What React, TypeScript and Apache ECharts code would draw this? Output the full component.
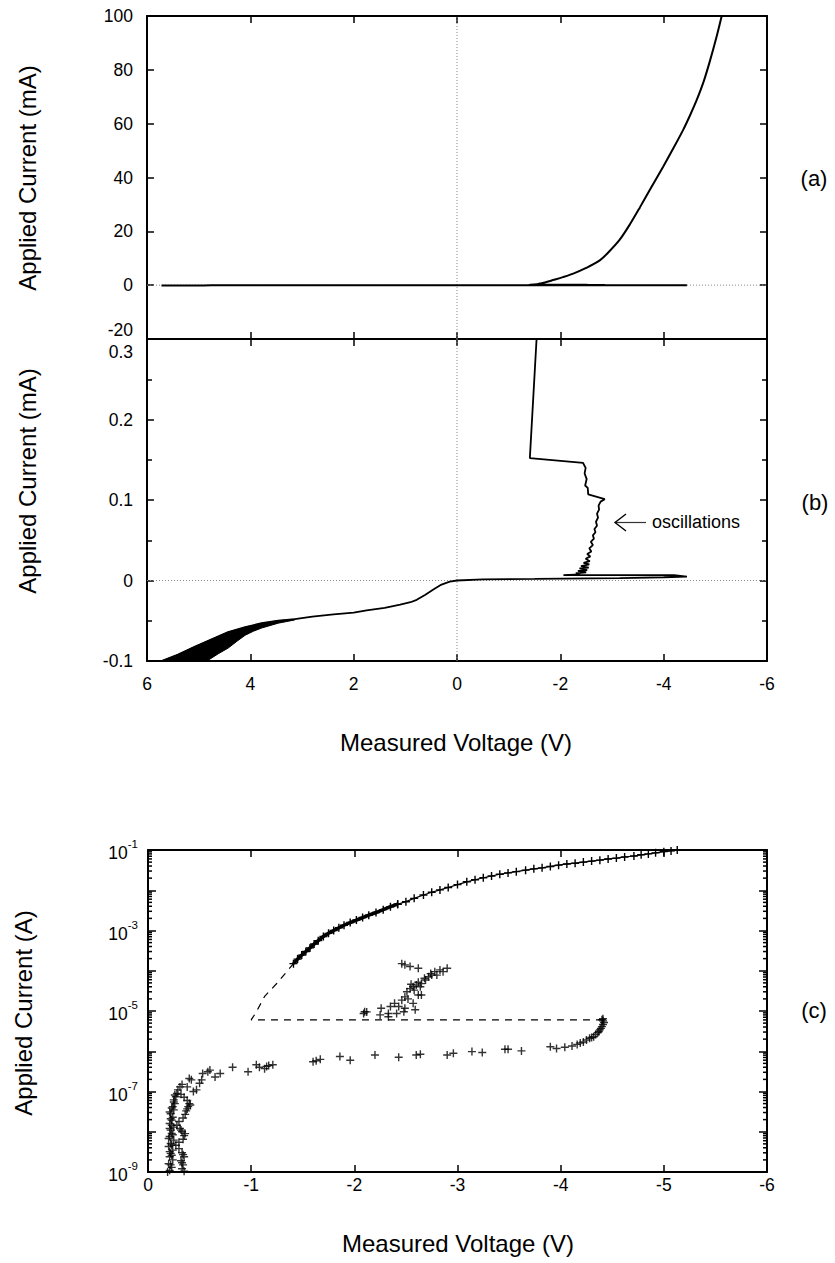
import React, { useEffect, useRef } from 'react';
import * as echarts from 'echarts';

const FONT = '"Liberation Sans", Arial, Helvetica, sans-serif';

// ---------- Panels (a) and (b): measured voltage (V) vs applied current (mA) ----------
// thick noisy band at strong forward bias (upper and lower edge)
const bandUpper: number[][] = [
  [5.72, -0.1], [5.4, -0.092], [5.07, -0.082], [4.75, -0.073], [4.43, -0.064],
  [4.1, -0.058], [3.78, -0.053], [3.46, -0.05], [3.14, -0.048],
];
const bandLower: number[][] = [
  [4.84, -0.1], [4.62, -0.091], [4.43, -0.084], [4.25, -0.075], [4.1, -0.068],
  [3.94, -0.063], [3.78, -0.059], [3.46, -0.053], [3.14, -0.049],
];
// sweep through zero up to the snap-back spike
const lowSweep: number[][] = [
  [3.14, -0.048], [2.8, -0.045], [2.39, -0.042], [2.0, -0.04], [1.75, -0.037], [1.4, -0.034],
  [1.1, -0.03], [0.9, -0.027], [0.78, -0.024], [0.62, -0.018], [0.45, -0.011], [0.3, -0.005],
  [0.14, -0.0015], [0.0, 0.0], [-0.5, 0.0015], [-1.5, 0.002], [-3.15, 0.003], [-4.0, 0.004],
  [-4.45, 0.0047], [-4.2, 0.0065], [-3.0, 0.0068], [-2.06, 0.0068],
];
// oscillating region
const oscillations: number[][] = [
  [-2.38, 0.0075], [-2.3, 0.009], [-2.5, 0.01], [-2.34, 0.012], [-2.52, 0.013], [-2.37, 0.015],
  [-2.55, 0.016], [-2.4, 0.018], [-2.56, 0.02], [-2.45, 0.022], [-2.57, 0.024], [-2.49, 0.027],
  [-2.58, 0.03], [-2.52, 0.033], [-2.6, 0.036], [-2.56, 0.04], [-2.63, 0.044], [-2.59, 0.048],
  [-2.65, 0.052], [-2.63, 0.056], [-2.68, 0.06], [-2.66, 0.064], [-2.71, 0.068], [-2.69, 0.073],
  [-2.73, 0.078], [-2.71, 0.083], [-2.75, 0.088], [-2.74, 0.093], [-2.78, 0.098], [-2.86, 0.101],
  [-2.54, 0.107], [-2.53, 0.115], [-2.48, 0.118], [-2.51, 0.126], [-2.47, 0.133], [-2.49, 0.14],
  [-2.44, 0.146], [-1.41, 0.152],
];
// high-current branch
const highBranch: number[][] = [
  [-1.54, 0.3], [-1.6, 0.6], [-1.7, 1.0], [-1.86, 1.9], [-2.05, 3.0], [-2.25, 4.3], [-2.5, 6.4],
  [-2.77, 9.3], [-2.95, 12.6], [-3.15, 16.9], [-3.35, 22.7], [-3.54, 28.9], [-3.75, 36.0],
  [-3.99, 44.0], [-4.2, 51.3], [-4.38, 57.8], [-4.52, 63.5], [-4.64, 68.8], [-4.78, 76.0],
  [-4.9, 83.6], [-5.02, 92.0], [-5.12, 99.7], [-5.15, 102],
];

// ---------- Panel (c): measured voltage (V) vs applied current (A), log scale ----------
const logLowBranch: number[][] = [
  [-0.21, 1.1e-9], [-0.23, 1.3e-9], [-0.2, 1.6e-9], [-0.24, 2.0e-9], [-0.21, 2.4e-9], [-0.22, 2.9e-9],
  [-0.24, 3.5e-9], [-0.2, 4.3e-9], [-0.22, 5.1e-9], [-0.25, 6.2e-9], [-0.21, 7.6e-9], [-0.23, 9.1e-9],
  [-0.22, 1.1e-8], [-0.25, 1.3e-8], [-0.21, 1.6e-8], [-0.23, 1.95e-8], [-0.24, 2.3e-8], [-0.22, 2.8e-8],
  [-0.25, 3.5e-8], [-0.24, 4.2e-8], [-0.26, 5.0e-8], [-0.25, 6.2e-8], [-0.27, 7.4e-8], [-0.28, 9.0e-8],
  [-0.29, 1.1e-7], [-0.31, 1.3e-7], [-0.33, 1.5e-7],
  [-0.19, 1.0e-9], [-0.22, 1.5e-9], [-0.23, 2.6e-9], [-0.21, 3.2e-9], [-0.23, 4.7e-9], [-0.2, 6.8e-9],
  [-0.24, 8.4e-9], [-0.21, 1.2e-8], [-0.23, 1.45e-8], [-0.22, 2.1e-8], [-0.21, 3.1e-8], [-0.23, 3.9e-8],
  [-0.25, 5.5e-8], [-0.26, 8.2e-8],
  [-0.33, 1.2e-9], [-0.34, 1.5e-9], [-0.32, 1.9e-9], [-0.35, 2.4e-9], [-0.33, 3.0e-9], [-0.3, 3.8e-9],
  [-0.27, 4.6e-9], [-0.3, 5.5e-9], [-0.34, 6.5e-9], [-0.35, 8.0e-9], [-0.33, 1.0e-8], [-0.31, 1.2e-8],
  [-0.28, 1.45e-8], [-0.3, 1.8e-8], [-0.34, 2.2e-8], [-0.36, 2.7e-8], [-0.37, 3.3e-8], [-0.39, 4.2e-8],
  [-0.4, 5.0e-8], [-0.38, 6.0e-8], [-0.35, 7.2e-8], [-0.32, 8.5e-8], [-0.44, 1.0e-7], [-0.47, 1.1e-7],
  [-0.35, 1.05e-9], [-0.33, 1.7e-9], [-0.34, 2.7e-9], [-0.36, 9.0e-9], [-0.32, 1.1e-8], [-0.38, 3.7e-8],
  [-0.41, 4.6e-8],
  [-0.38, 1.3e-7], [-0.5, 1.6e-7], [-0.52, 1.95e-7], [-0.42, 1.95e-7], [-0.4, 2.1e-7], [-0.53, 2.8e-7],
  [-0.58, 3.1e-7], [-0.6, 3.4e-7], [-0.65, 2.3e-7], [-0.7, 2.8e-7], [-0.82, 4.0e-7],
  [-0.97, 3.1e-7], [-1.05, 4.6e-7], [-1.08, 4.0e-7], [-1.13, 3.7e-7], [-1.15, 4.2e-7], [-1.17, 4.4e-7],
  [-1.21, 4.6e-7], [-1.6, 5.5e-7], [-1.63, 5.8e-7], [-1.67, 6.3e-7], [-1.86, 7.4e-7], [-1.96, 6.0e-7],
  [-2.2, 8.1e-7], [-2.43, 7.1e-7], [-2.6, 8.1e-7], [-2.64, 8.4e-7], [-2.9, 8.1e-7], [-2.96, 8.9e-7],
  [-3.14, 9.8e-7], [-3.24, 9.3e-7], [-3.46, 1.12e-6], [-3.49, 1.12e-6], [-3.62, 1.02e-6], [-3.9, 1.29e-6],
  [-3.96, 1.17e-6], [-4.04, 1.26e-6], [-4.11, 1.35e-6], [-4.16, 1.48e-6], [-4.19, 1.6e-6], [-4.22, 1.7e-6],
  [-4.25, 1.9e-6], [-4.28, 2.1e-6], [-4.3, 2.2e-6], [-4.32, 2.3e-6], [-4.34, 2.6e-6], [-4.36, 2.9e-6],
  [-4.37, 3.1e-6], [-4.38, 3.4e-6], [-4.39, 3.7e-6], [-4.4, 4.1e-6], [-4.41, 4.6e-6], [-4.42, 5.2e-6],
  [-4.41, 5.7e-6], [-4.4, 6.1e-6], [-4.41, 6.4e-6],
];
const logOscCluster: number[][] = [
  [-2.1, 9.6e-6], [-2.09, 8.7e-6], [-2.12, 9.5e-6], [-2.25, 8.0e-6], [-2.26, 1.17e-5], [-2.33, 8.7e-6],
  [-2.33, 7.2e-6], [-2.35, 1.29e-5], [-2.39, 1.55e-5], [-2.41, 8.7e-6], [-2.43, 1.29e-5], [-2.48, 9.6e-6],
  [-2.46, 1.86e-5], [-2.49, 2.24e-5], [-2.52, 2.0e-5], [-2.51, 3.0e-5], [-2.54, 3.6e-5], [-2.57, 4.0e-5],
  [-2.6, 4.4e-5], [-2.64, 4.0e-5], [-2.65, 2.5e-5], [-2.57, 1.55e-5], [-2.59, 1.07e-5], [-2.49, 1.17e-5],
  [-2.65, 4.8e-5], [-2.69, 5.9e-5], [-2.72, 7.1e-5], [-2.75, 7.8e-5], [-2.78, 9.5e-5], [-2.83, 1.05e-4],
  [-2.9, 1.15e-4], [-2.86, 9.5e-5], [-2.8, 7.8e-5], [-2.49, 1.4e-4], [-2.54, 1.27e-4], [-2.62, 1.15e-4],
  [-2.46, 1.5e-4], [-2.62, 2.5e-5], [-2.55, 4.6e-5], [-2.62, 5.2e-5], [-2.58, 3.3e-5], [-2.68, 6.5e-5],
  [-2.74, 8.5e-5],
];
// densely sampled start of the upper branch (markers merge into a thick line)
const logUpperDense: number[][] = [
  [-1.41, 1.5e-4], [-1.45, 1.95e-4], [-1.49, 2.45e-4], [-1.53, 3.0e-4], [-1.57, 3.7e-4], [-1.61, 4.6e-4],
  [-1.65, 5.6e-4], [-1.7, 7.1e-4], [-1.75, 8.5e-4], [-1.8, 1.0e-3], [-1.85, 1.17e-3], [-1.9, 1.35e-3],
  [-1.96, 1.58e-3], [-2.02, 1.82e-3], [-2.08, 2.1e-3], [-2.14, 2.4e-3], [-2.21, 2.8e-3], [-2.28, 3.3e-3],
  [-2.35, 3.9e-3], [-2.42, 4.5e-3],
];
const logUpperSparse: number[][] = [
  [-2.42, 4.5e-3], [-2.5, 5.2e-3], [-2.58, 6.3e-3], [-2.67, 7.6e-3], [-2.75, 8.9e-3],
  [-2.83, 1.02e-2], [-2.91, 1.17e-2], [-3.0, 1.38e-2], [-3.09, 1.62e-2], [-3.17, 1.82e-2], [-3.25, 2.04e-2],
  [-3.33, 2.26e-2], [-3.41, 2.5e-2], [-3.49, 2.7e-2], [-3.57, 2.9e-2], [-3.66, 3.16e-2], [-3.74, 3.4e-2],
  [-3.82, 3.6e-2], [-3.9, 3.9e-2], [-3.98, 4.2e-2], [-4.06, 4.5e-2], [-4.14, 4.7e-2], [-4.22, 5.0e-2],
  [-4.3, 5.3e-2], [-4.38, 5.6e-2], [-4.46, 6.0e-2], [-4.54, 6.3e-2], [-4.62, 6.7e-2], [-4.71, 7.1e-2],
  [-4.78, 7.6e-2], [-4.85, 8.0e-2], [-4.92, 8.5e-2], [-5.0, 9.1e-2], [-5.07, 9.5e-2], [-5.13, 1.0e-1],
];
const logSnapBack: number[][] = [
  [-4.41, 6.0e-6], [-1.0, 6.0e-6], [-1.05, 9.5e-6], [-1.13, 2.3e-5], [-1.25, 4.9e-5], [-1.41, 1.5e-4],
];

// axis structure
const abZeroV: number[][] = [[0, -20], [0, 100]];
const abZeroH: number[][] = [[6, 0], [-6, 0]];
const bZeroV: number[][] = [[0, -0.1], [0, 0.3]];
const logDecades: number[] = [-9, -8, -7, -6, -5, -4, -3, -2];

const PLUS = 'path://M3.3,0H4.7V3.3H8V4.7H4.7V8H3.3V4.7H0V3.3H3.3Z';

export default function App() {
  const ref = useRef<HTMLDivElement>(null);
  useEffect(() => {
    document.body.style.margin = '0';
    if (!ref.current) return;
    const chart = echarts.init(ref.current, undefined, { renderer: 'svg' });

    const sweepPath = bandUpper.concat(lowSweep, oscillations, highBranch);
    const bandPolygon = bandUpper.concat(bandLower.slice().reverse());
    const minorTicks: number[][] = [];
    logDecades.forEach((e) => {
      for (let k = 2; k <= 9; k++) minorTicks.push([0, Number((k * Math.pow(10, e)).toPrecision(3))]);
    });

    const axisLine = { show: true, onZero: false, lineStyle: { color: '#000', width: 2 } };
    const tick = (len: number) => ({ show: true, inside: true, length: len, lineStyle: { color: '#000', width: 1.5 } });
    const label = (show: boolean, margin: number, extra: any = {}) => ({
      show, margin, fontSize: 17.5, fontFamily: FONT, color: '#000', ...extra,
    });
    const noSplit = { show: false };

    const xAB = (grid: number, pos: string, showLabel: boolean) => ({
      type: 'value', gridIndex: grid, position: pos, min: -6, max: 6, interval: 2, inverse: true,
      axisLine, axisTick: tick(7), splitLine: noSplit, axisLabel: label(showLabel, 14),
    });
    const xC = (pos: string, showLabel: boolean) => ({
      type: 'value', gridIndex: 2, position: pos, min: -6, max: 0, interval: 1, inverse: true,
      axisLine, axisTick: tick(7), splitLine: noSplit, axisLabel: label(showLabel, 4),
    });
    const yA = (pos: string, showLabel: boolean) => ({
      type: 'value', gridIndex: 0, position: pos, min: -20, max: 100, interval: 20,
      axisLine, axisTick: tick(7), splitLine: noSplit,
      axisLabel: label(showLabel, 14, {
        formatter: (v: number) => (v === -20 ? '{up|-20}' : String(v)),
        rich: { up: { fontSize: 17.5, fontFamily: FONT, color: '#000', padding: [0, 0, 18, 0] } },
      }),
    });
    const yB = (pos: string, showLabel: boolean) => ({
      type: 'value', gridIndex: 1, position: pos, min: -0.1, max: 0.3, interval: 0.1,
      axisLine, axisTick: tick(7), splitLine: noSplit,
      minorTick: { show: true, splitNumber: 2, length: 5, lineStyle: { color: '#000', width: 1.5 } },
      minorSplitLine: { show: false },
      axisLabel: label(showLabel, 14, {
        formatter: (v: number) => {
          const r = Math.round(v * 10) / 10;
          return r === 0.3 ? '{dn|0.3}' : String(r);
        },
        rich: { dn: { fontSize: 17.5, fontFamily: FONT, color: '#000', padding: [25, 0, 0, 0] } },
      }),
    });
    const yC = (pos: string, showLabel: boolean) => ({
      type: 'log', logBase: 10, gridIndex: 2, position: pos, min: 1e-9, max: 1e-1, interval: 1, splitNumber: 8,
      axisLine, axisTick: tick(8), splitLine: noSplit,
      axisLabel: label(showLabel, 10, {
        formatter: (v: number) => {
          const e = Math.round(Math.log10(v));
          if (e % 2 === 0) return '';
          return '{b|10}{s|' + e + '}';
        },
        rich: {
          b: { fontSize: 17.5, fontFamily: FONT, color: '#000', lineHeight: 24, verticalAlign: 'bottom' },
          s: { fontSize: 11.5, fontFamily: FONT, color: '#000', lineHeight: 14, verticalAlign: 'top' },
        },
      }),
    });

    const zeroStyle = { color: '#8a8a8a', width: 1, type: [1, 2] };

    const option: any = {
      animation: false,
      backgroundColor: '#fff',
      grid: [
        { left: 147, top: 16, width: 620, height: 323 },
        { left: 147, top: 339, width: 620, height: 322 },
        { left: 148, top: 850, width: 619, height: 322 },
      ],
      xAxis: [
        xAB(0, 'bottom', false), xAB(0, 'top', false),
        xAB(1, 'bottom', true), xAB(1, 'top', false),
        xC('bottom', true), xC('top', false),
      ],
      yAxis: [
        yA('left', true), yA('right', false),
        yB('left', true), yB('right', false),
        yC('left', true), yC('right', false),
      ],
      series: [
        { type: 'line', xAxisIndex: 0, yAxisIndex: 0, data: abZeroV, symbol: 'none', lineStyle: zeroStyle, z: 1, silent: true },
        { type: 'line', xAxisIndex: 0, yAxisIndex: 0, data: abZeroH, symbol: 'none', lineStyle: zeroStyle, z: 1, silent: true },
        { type: 'line', xAxisIndex: 0, yAxisIndex: 0, data: sweepPath, symbol: 'none', clip: true, smooth: 0.3,
          lineStyle: { color: '#000', width: 2 }, z: 3, silent: true },
        { type: 'line', xAxisIndex: 2, yAxisIndex: 2, data: bZeroV, symbol: 'none', lineStyle: zeroStyle, z: 1, silent: true },
        { type: 'line', xAxisIndex: 2, yAxisIndex: 2, data: abZeroH, symbol: 'none', lineStyle: zeroStyle, z: 1, silent: true },
        {
          type: 'custom', xAxisIndex: 2, yAxisIndex: 2, data: bandPolygon, z: 3, silent: true,
          renderItem: (params: any, api: any) => {
            if (params.dataIndex !== 0) return null;
            const pts = bandPolygon.map((p) => api.coord(p));
            return { type: 'polygon', shape: { points: pts }, style: { fill: '#000', stroke: '#000', lineWidth: 1 } };
          },
        },
        { type: 'line', xAxisIndex: 2, yAxisIndex: 2, data: sweepPath, symbol: 'none', clip: true,
          lineStyle: { color: '#000', width: 1.8 }, z: 3, silent: true },
        { type: 'scatter', xAxisIndex: 4, yAxisIndex: 4, data: logLowBranch, symbol: PLUS, symbolSize: 8,
          itemStyle: { color: '#000' }, z: 3, silent: true },
        { type: 'scatter', xAxisIndex: 4, yAxisIndex: 4, data: logOscCluster, symbol: PLUS, symbolSize: 8,
          itemStyle: { color: '#000' }, z: 3, silent: true },
        { type: 'line', xAxisIndex: 4, yAxisIndex: 4, data: logUpperDense, symbol: PLUS, symbolSize: 8, showSymbol: true,
          itemStyle: { color: '#000' }, lineStyle: { color: '#000', width: 3.5 }, z: 3, silent: true },
        { type: 'line', xAxisIndex: 4, yAxisIndex: 4, data: logUpperSparse, symbol: PLUS, symbolSize: 8, showSymbol: true,
          itemStyle: { color: '#000' }, lineStyle: { color: '#000', width: 1.2 }, z: 3, silent: true },
        { type: 'line', xAxisIndex: 4, yAxisIndex: 4, data: logSnapBack, symbol: 'none',
          lineStyle: { color: '#000', width: 1.2, type: [7, 6] }, z: 3, silent: true },
        {
          type: 'custom', xAxisIndex: 4, yAxisIndex: 4, data: minorTicks, z: 4, silent: true,
          renderItem: (params: any, api: any) => {
            const v = api.value(1);
            const l = api.coord([0, v]);
            const r = api.coord([-6, v]);
            const st = { stroke: '#000', lineWidth: 1.5 };
            return {
              type: 'group',
              children: [
                { type: 'line', shape: { x1: l[0], y1: l[1], x2: l[0] + 4, y2: l[1] }, style: st },
                { type: 'line', shape: { x1: r[0] - 4, y1: r[1], x2: r[0], y2: r[1] }, style: st },
              ],
            };
          },
        },
      ],
      graphic: {
        elements: [
          { type: 'text', x: 27, y: 178, rotation: Math.PI / 2,
            style: { text: 'Applied Current (mA)', fontSize: 24, fontFamily: FONT, fill: '#000', align: 'center', verticalAlign: 'middle' } },
          { type: 'text', x: 27, y: 481, rotation: Math.PI / 2,
            style: { text: 'Applied Current (mA)', fontSize: 24, fontFamily: FONT, fill: '#000', align: 'center', verticalAlign: 'middle' } },
          { type: 'text', x: 23, y: 1013, rotation: Math.PI / 2,
            style: { text: 'Applied Current (A)', fontSize: 24, fontFamily: FONT, fill: '#000', align: 'center', verticalAlign: 'middle' } },
          { type: 'text', x: 456, y: 742,
            style: { text: 'Measured Voltage (V)', fontSize: 24, fontFamily: FONT, fill: '#000', align: 'center', verticalAlign: 'middle' } },
          { type: 'text', x: 458, y: 1243,
            style: { text: 'Measured Voltage (V)', fontSize: 24, fontFamily: FONT, fill: '#000', align: 'center', verticalAlign: 'middle' } },
          { type: 'text', x: 814, y: 178,
            style: { text: '(a)', fontSize: 22, fontFamily: FONT, fill: '#000', align: 'center', verticalAlign: 'middle' } },
          { type: 'text', x: 815, y: 502,
            style: { text: '(b)', fontSize: 22, fontFamily: FONT, fill: '#000', align: 'center', verticalAlign: 'middle' } },
          { type: 'text', x: 814, y: 1010,
            style: { text: '(c)', fontSize: 22, fontFamily: FONT, fill: '#000', align: 'center', verticalAlign: 'middle' } },
          { type: 'text', x: 652, y: 522,
            style: { text: 'oscillations', fontSize: 18, fontFamily: FONT, fill: '#000', align: 'left', verticalAlign: 'middle' } },
          { type: 'line', shape: { x1: 616, y1: 522.5, x2: 646, y2: 522.5 }, style: { stroke: '#333', lineWidth: 1.2 } },
          { type: 'polyline', shape: { points: [[626, 514], [615, 522.5], [626, 531]] },
            style: { stroke: '#000', lineWidth: 1.4, fill: null } },
        ],
      },
    };
    chart.setOption(option);
    return () => chart.dispose();
  }, []);
  return <div ref={ref} style={{ width: 835, height: 1263 }} />;
}
